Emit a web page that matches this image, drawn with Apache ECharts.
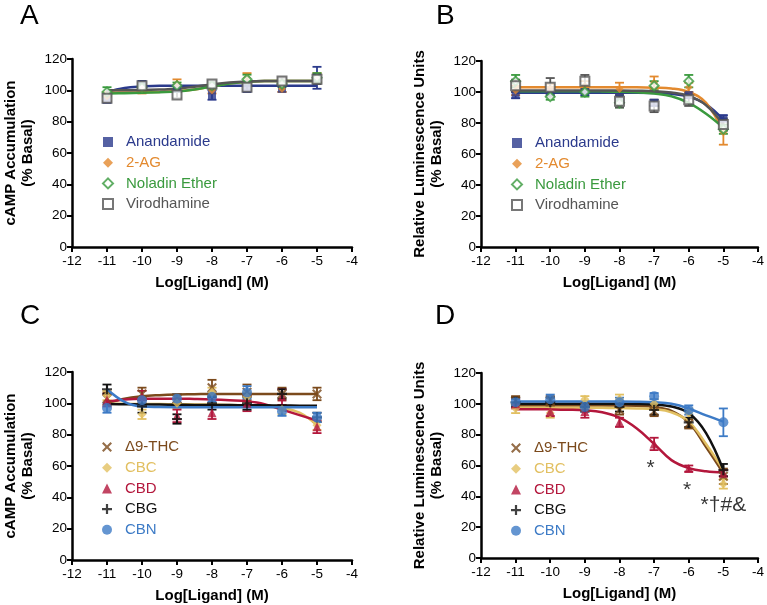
<!DOCTYPE html>
<html>
<head>
<meta charset="utf-8">
<script src="https://cdn.jsdelivr.net/npm/echarts@6/dist/echarts.min.js"></script>
<style>
html,body{margin:0;padding:0;background:#fff;}
#chart{width:767px;height:605px;}
</style>
</head>
<body>
<div id="chart"></div>
<script>
// doses (log M) for the measured points and for the fitted curves
var doses = [-11, -10, -9, -8, -7, -6, -5];
var fitDoses = [-11, -10.5, -10, -9.5, -9, -8.5, -8, -7.5, -7, -6.5, -6, -5.5, -5];
var xTicks = [-12, -4, 1];
var yTicks = [0, 120, 20];

// A: cAMP, endocannabinoids
var aAnandamide = [95, 104, 101, 97, 101, 101, 108];
var aAnandamideErr = [3, 2, 2, 3, 2, 2, 7];
var aAnandamideFit = [99, 101.5, 102.5, 103, 103, 103, 103, 103, 103, 103, 103, 103, 103];
var a2AG = [96, 101, 104, 100, 108, 101, 108];
var a2AGErr = [3, 3, 3, 2, 3, 2, 3];
var a2AGFit = [98.5, 98.6, 98.8, 99, 99.5, 100.5, 102.5, 104.5, 105.5, 106, 106, 106, 106];
var aNoladin = [99, 102, 103, 103, 107, 104, 108];
var aNoladinErr = [3, 2, 2, 2, 3, 2, 3];
var aNoladinFit = [98, 98.2, 98.5, 98.8, 99.2, 100.5, 102.5, 104.3, 105.5, 106, 106, 106, 106];
var aVirod = [95, 103, 97, 104, 102, 106, 107];
var aVirodErr = [2, 2, 2, 2, 2, 2, 3];
var aVirodFit = [100, 100.1, 100.2, 100.5, 101, 102.3, 103.8, 105, 105.7, 106, 106, 106, 106];

// B: luminescence, endocannabinoids
var bAnandamide = [98, 100, 100, 96, 93, 98, 83];
var bAnandamideErr = [2, 2, 2, 2, 2, 2, 2];
var bAnandamideFit = [99.5, 99.5, 99.5, 99.5, 99.5, 99.5, 99.5, 99.5, 99.3, 98.8, 97, 92, 82];
var b2AG = [101, 102, 104, 102, 106, 103, 74];
var b2AGErr = [3, 3, 3, 4, 4, 3, 8];
var b2AGFit = [103, 103, 103, 103, 103, 103, 103, 103, 102.8, 102.3, 100, 93, 74];
var bNoladin = [107, 97, 100, 93, 104, 107, 76];
var bNoladinErr = [4, 2, 3, 3, 3, 4, 3];
var bNoladinFit = [100.5, 100.5, 100.5, 100.5, 100.5, 100.4, 100.2, 99.8, 99, 97.3, 93, 86, 77];
var bVirod = [104, 103, 107, 94, 91, 95, 79];
var bVirodErr = [4, 6, 4, 4, 4, 4, 4];
var bVirodFit = [101, 101, 101, 101, 101, 101, 101, 100.8, 100.5, 99.7, 97.5, 91.5, 79];

// C: cAMP, phytocannabinoids
var cTHC = [103, 106, 103, 110, 107, 106, 106];
var cTHCErr = [4, 4, 3, 5, 5, 4, 4];
var cTHCFit = [100, 103, 104.5, 105.2, 105.6, 105.8, 106, 106, 106, 106, 106, 106, 106];
var cCBC = [105, 93, 100, 107, 104, 96, 86];
var cCBCErr = [3, 3, 3, 3, 3, 3, 3];
var cCBCFit = [99.8, 99.7, 99.6, 99.5, 99.4, 99.3, 99.2, 99, 98.7, 98.2, 97, 94, 86];
var cCBD = [102, 104, 92, 94, 100, 104, 85];
var cCBDErr = [4, 4, 4, 4, 5, 5, 4];
var cCBDFit = [101, 102.5, 103, 103, 103, 102.8, 102.5, 102, 101.3, 99.5, 96, 92.5, 89];
var cCBG = [109, 98, 90, 100, 100, 106, 91];
var cCBGErr = [3, 4, 3, 4, 4, 3, 3];
var cCBGFit = [99.5, 99.4, 99.3, 99.2, 99.1, 99, 99, 98.9, 98.8, 98.7, 98.6, 98.5, 98.4];
var cCBN = [97, 102, 103, 104, 107, 95, 91];
var cCBNErr = [3, 2, 3, 3, 4, 3, 3];
var cCBNFit = [109, 101, 98, 97.6, 97.5, 97.5, 97.5, 97.5, 97.5, 97.5, 97.5, 97.5, 97.5];

// D: luminescence, phytocannabinoids
var dTHC = [102, 102, 98, 96, 95, 87, 53];
var dTHCErr = [3, 3, 3, 3, 3, 3, 5];
var dTHCFit = [99, 99, 99, 99, 99, 99, 98.9, 98.7, 98, 95.5, 88, 72, 55];
var dCBC = [97, 94, 103, 103, 100, 94, 48];
var dCBCErr = [3, 3, 2, 3, 3, 3, 3];
var dCBCFit = [97.5, 97.5, 97.5, 97.5, 97.5, 97.4, 97.3, 97, 96.5, 94.5, 88.5, 74, 57];
var dCBD = [100, 95, 95, 88, 74, 58, 55];
var dCBDErr = [3, 3, 4, 3, 4, 2, 2];
var dCBDFit = [96.5, 96.5, 96.4, 96.2, 95.8, 94.5, 91, 84, 74, 63.5, 58.3, 56.2, 55.5];
var dCBG = [101, 101, 98, 98, 96, 88, 57];
var dCBGErr = [3, 3, 3, 3, 3, 3, 4];
var dCBGFit = [100, 100, 100, 100, 100, 100, 100, 99.9, 99.6, 98.3, 94, 81, 57];
var dCBN = [101, 103, 98, 101, 105, 96, 88];
var dCBNErr = [2, 3, 3, 3, 2, 3, 9];
var dCBNFit = [101.5, 101.5, 101.5, 101.5, 101.5, 101.5, 101.5, 101.4, 101, 100, 97, 92.5, 88.5];
var dMarks = [[-7.1, 58, '*'], [-6.05, 44, '*'], [-5.0, 34, '*\u2020#&']];

var FONT = '"Liberation Sans", Arial, sans-serif';
var xPath = 'path://M1.5,0L5,3.5L8.5,0L10,1.5L6.5,5L10,8.5L8.5,10L5,6.5L1.5,10L0,8.5L3.5,5L0,1.5Z';
var plusPath = 'path://M3.9,0H6.1V3.9H10V6.1H6.1V10H3.9V6.1H0V3.9H3.9Z';

var grids = [
    {left: 72, top: 59, width: 280, height: 188},
    {left: 481, top: 61, width: 280, height: 186},
    {left: 72, top: 372, width: 280, height: 188},
    {left: 481, top: 373, width: 280, height: 185}
];
var yNames = ['cAMP Accumulation\n(% Basal)', 'Relative Luminescence Units\n(% Basal)',
    'cAMP Accumulation\n(% Basal)', 'Relative Luminescence Units\n(% Basal)'];

var xAxes = [], yAxes = [];
for (var g = 0; g < 4; g++) {
    xAxes.push({
        type: 'value', gridIndex: g, min: xTicks[0], max: xTicks[1], interval: xTicks[2],
        axisLine: {show: true, onZero: false, lineStyle: {color: '#000', width: 2.5}},
        axisTick: {show: true, length: 5, lineStyle: {color: '#000', width: 2}},
        axisLabel: {color: '#000', fontSize: 13.5, fontFamily: FONT, margin: 7},
        splitLine: {show: false},
        name: 'Log[Ligand] (M)', nameLocation: 'middle', nameGap: 28,
        nameTextStyle: {color: '#000', fontSize: 15, fontWeight: 'bold', fontFamily: FONT}
    });
    yAxes.push({
        type: 'value', gridIndex: g, min: yTicks[0], max: yTicks[1], interval: yTicks[2],
        axisLine: {show: true, onZero: false, lineStyle: {color: '#000', width: 2.5}},
        axisTick: {show: true, length: 5, lineStyle: {color: '#000', width: 2}},
        axisLabel: {color: '#000', fontSize: 13.5, fontFamily: FONT, margin: 5},
        splitLine: {show: false},
        name: yNames[g], nameLocation: 'middle', nameGap: 36,
        nameTextStyle: {color: '#000', fontSize: 15, fontWeight: 'bold', fontFamily: FONT, lineHeight: 17}
    });
}

var series = [];
var legends = [[], [], [], []];

function addSet(g, name, color, symbol, size, open, means, errs, fit) {
    series.push({
        type: 'custom', name: name + ' err', xAxisIndex: g, yAxisIndex: g, z: 2,
        data: doses.map(function (x, i) { return [x, means[i] - errs[i], means[i] + errs[i]]; }),
        renderItem: function (params, api) {
            var lo = api.coord([api.value(0), api.value(1)]);
            var hi = api.coord([api.value(0), api.value(2)]);
            var w = 4.5;
            var st = {stroke: color, lineWidth: 1.8};
            return {type: 'group', children: [
                {type: 'line', shape: {x1: lo[0], y1: lo[1], x2: hi[0], y2: hi[1]}, style: st},
                {type: 'line', shape: {x1: hi[0] - w, y1: hi[1], x2: hi[0] + w, y2: hi[1]}, style: st},
                {type: 'line', shape: {x1: lo[0] - w, y1: lo[1], x2: lo[0] + w, y2: lo[1]}, style: st}
            ]};
        }
    });
    series.push({
        type: 'line', name: name + ' fit', xAxisIndex: g, yAxisIndex: g, z: 3,
        data: fitDoses.map(function (x, i) { return [x, fit[i]]; }),
        smooth: 0.4, showSymbol: false, silent: true,
        lineStyle: {color: color, width: 2.5}
    });
    series.push({
        type: 'scatter', name: name, xAxisIndex: g, yAxisIndex: g, z: 4,
        data: doses.map(function (x, i) { return [x, means[i]]; }),
        symbol: symbol, symbolSize: size,
        itemStyle: open ? {color: '#fff', borderColor: color, borderWidth: 2} : {color: color}
    });
    legends[g].push({name: name, textStyle: {color: color}});
}

var navy = '#2B3A8C', orange = '#E38A2F', green = '#3A9A3E', gray = '#555555';
var brown = '#7B4A1C', yellow = '#E2C062', red = '#B3173C', black = '#111111', blue = '#3D7BC6';

addSet(0, 'Anandamide', navy, 'rect', 8, false, aAnandamide, aAnandamideErr, aAnandamideFit);
addSet(0, '2-AG', orange, 'diamond', 8, false, a2AG, a2AGErr, a2AGFit);
addSet(0, 'Noladin Ether', green, 'diamond', 9, true, aNoladin, aNoladinErr, aNoladinFit);
addSet(0, 'Virodhamine', gray, 'rect', 9, true, aVirod, aVirodErr, aVirodFit);

addSet(1, 'Anandamide', navy, 'rect', 8, false, bAnandamide, bAnandamideErr, bAnandamideFit);
addSet(1, '2-AG', orange, 'diamond', 8, false, b2AG, b2AGErr, b2AGFit);
addSet(1, 'Noladin Ether', green, 'diamond', 9, true, bNoladin, bNoladinErr, bNoladinFit);
addSet(1, 'Virodhamine', gray, 'rect', 9, true, bVirod, bVirodErr, bVirodFit);

addSet(2, '\u03949-THC', brown, xPath, 10, false, cTHC, cTHCErr, cTHCFit);
addSet(2, 'CBC', yellow, 'diamond', 9, false, cCBC, cCBCErr, cCBCFit);
addSet(2, 'CBD', red, 'triangle', 9, false, cCBD, cCBDErr, cCBDFit);
addSet(2, 'CBG', black, plusPath, 10, false, cCBG, cCBGErr, cCBGFit);
addSet(2, 'CBN', blue, 'circle', 10, false, cCBN, cCBNErr, cCBNFit);

addSet(3, '\u03949-THC', brown, xPath, 10, false, dTHC, dTHCErr, dTHCFit);
addSet(3, 'CBC', yellow, 'diamond', 9, false, dCBC, dCBCErr, dCBCFit);
addSet(3, 'CBD', red, 'triangle', 9, false, dCBD, dCBDErr, dCBDFit);
addSet(3, 'CBG', black, plusPath, 10, false, dCBG, dCBGErr, dCBGFit);
addSet(3, 'CBN', blue, 'circle', 10, false, dCBN, dCBNErr, dCBNFit);

// significance marks in D
series.push({
    type: 'scatter', name: 'marks', xAxisIndex: 3, yAxisIndex: 3, z: 5, silent: true,
    data: dMarks, symbolSize: 0,
    label: {show: true, position: 'inside', color: '#000', fontSize: 21, fontFamily: FONT,
        formatter: function (p) { return p.data[2]; }}
});

var legendPos = [[102, 132], [511, 133], [102, 437], [511, 438]];
var legendCfg = legends.map(function (d, i) {
    return {
        data: d, orient: 'vertical', left: legendPos[i][0], top: legendPos[i][1], padding: 0,
        itemWidth: 10, itemHeight: 10, itemGap: 0.7, selectedMode: false,
        textStyle: {fontSize: 15, fontFamily: FONT, lineHeight: 20, padding: [0, 0, 0, 8]}
    };
});

var letters = [['A', 20, 2], ['B', 436, 2], ['C', 20, 302], ['D', 435, 302]];

var chart = echarts.init(document.getElementById('chart'));
chart.setOption({
    animation: false,
    backgroundColor: '#fff',
    grid: grids,
    xAxis: xAxes,
    yAxis: yAxes,
    legend: legendCfg,
    series: series,
    graphic: letters.map(function (l) {
        return {type: 'text', left: l[1], top: l[2],
            style: {text: l[0], fontSize: 28, fontFamily: FONT, fill: '#000'}};
    })
});
</script>
</body>
</html>
